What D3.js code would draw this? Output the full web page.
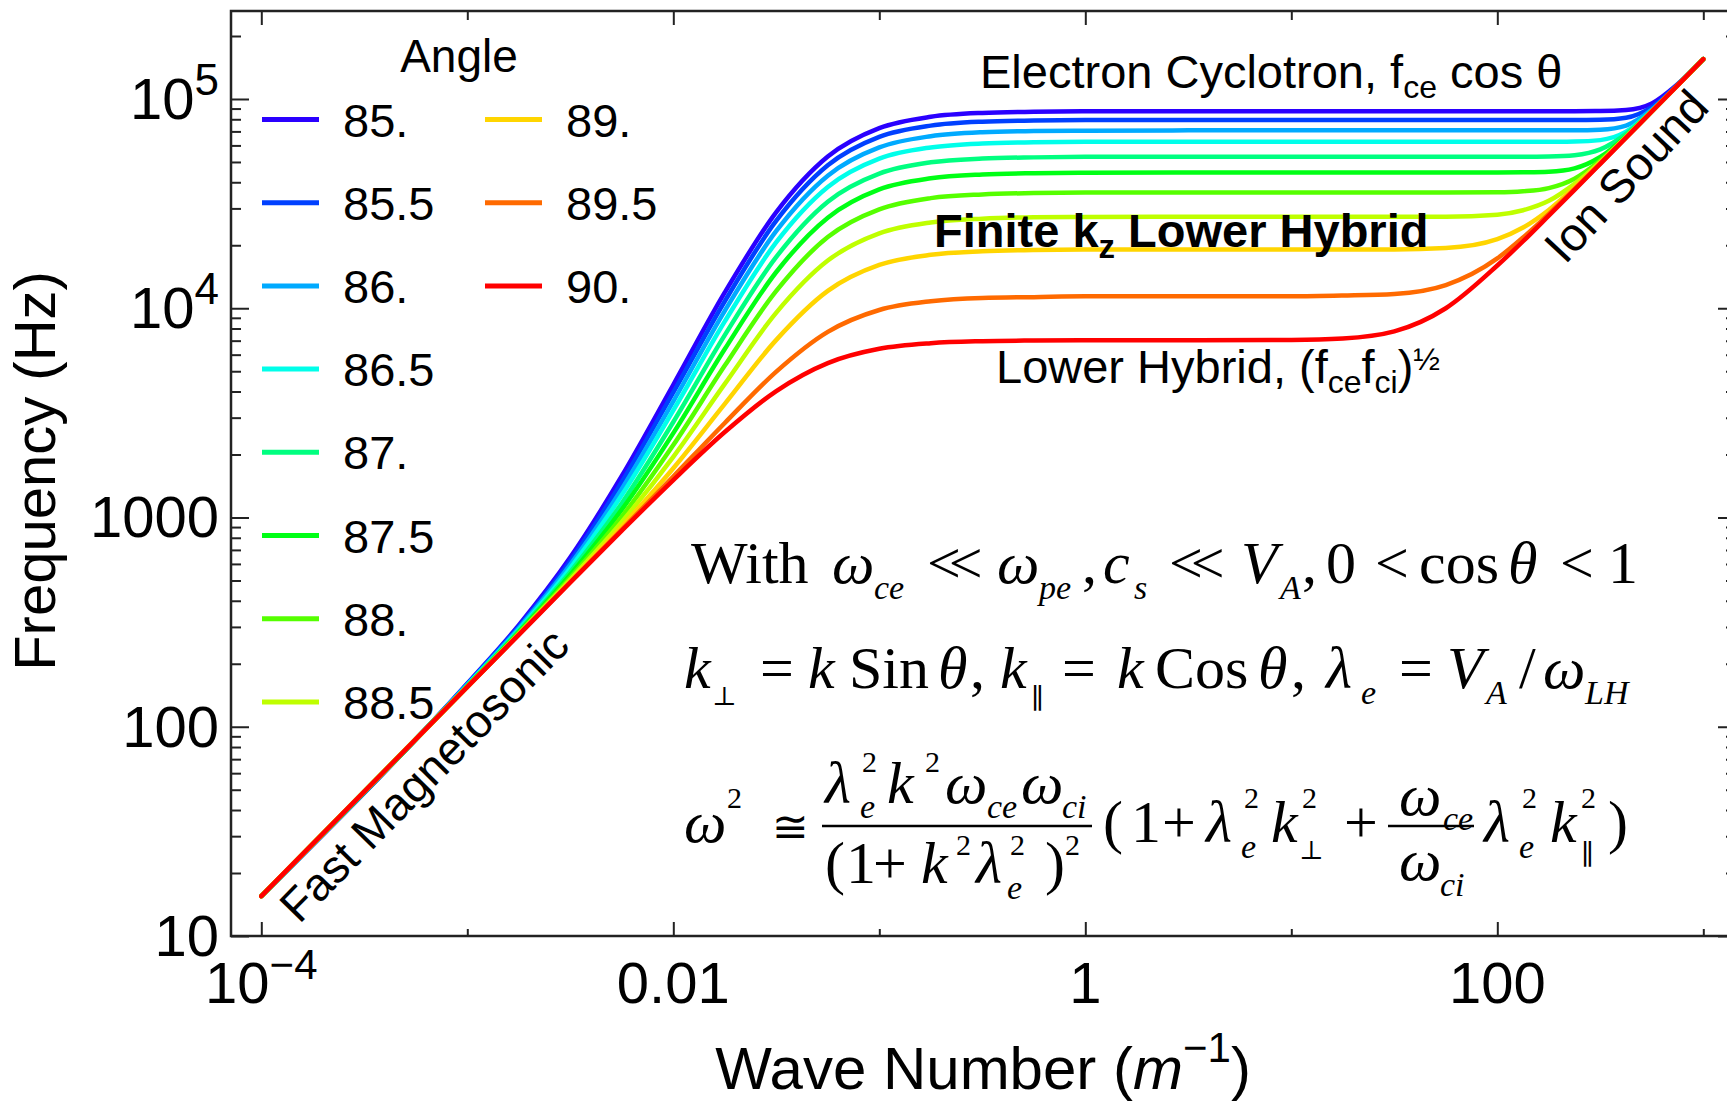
<!DOCTYPE html>
<html><head><meta charset="utf-8">
<script src="https://cdn.jsdelivr.net/npm/d3@7"></script>
<style>body{margin:0;background:#fff} svg{display:block}</style>
</head><body>
<svg id="chart" width="1727" height="1104"></svg>
<script>
// ---------------- data ----------------
const angles = ["85.", "85.5", "86.", "86.5", "87.", "87.5", "88.", "88.5", "89.", "89.5", "90."];
const waveNumbers = [1e-4, 1e-3, 0.001778, 0.003162, 0.005623, 0.01, 0.01778, 0.03162, 0.05623, 0.1, 0.1778, 0.3162, 0.5623, 1, 3.162, 10, 17.78, 31.62, 56.23, 100, 133.4, 177.8, 237.1, 316.2, 421.7, 562.3, 749.9, 1000];
const f85   = [15.5, 161, 306, 645, 1580, 4310, 11900, 28800, 53100, 72600, 82200, 85800, 86900, 87300, 87500, 87500, 87500, 87500, 87500, 87500, 87500, 87500, 87500, 87600, 88500, 95200, 117600, 155100];
const f85_5 = [15.5, 160, 301, 620, 1480, 3960, 10800, 26200, 48200, 65900, 74600, 77900, 78900, 79300, 79400, 79400, 79400, 79400, 79400, 79400, 79400, 79400, 79400, 79600, 81400, 91500, 116800, 155000];
const f86   = [15.5, 159, 296, 595, 1370, 3590, 9720, 23400, 43000, 58700, 66400, 69400, 70300, 70600, 70800, 70800, 70800, 70800, 70800, 70800, 70800, 70800, 70800, 71300, 74600, 89000, 116400, 155000];
const f86_5 = [15.5, 158, 291, 573, 1280, 3250, 8650, 20700, 38000, 51900, 58700, 61300, 62100, 62400, 62500, 62500, 62500, 62500, 62500, 62500, 62500, 62500, 62600, 63600, 69800, 87800, 116200, 155000];
const f87   = [15.5, 157, 287, 550, 1170, 2860, 7440, 17600, 32300, 44000, 49800, 51900, 52600, 52900, 53000, 53000, 53000, 53000, 53000, 53000, 53000, 53150, 53900, 57400, 68100, 87800, 116300, 155000];
const f87_5 = [15.5, 156, 283, 533, 1090, 2530, 6380, 14900, 27100, 37000, 41800, 43600, 44200, 44400, 44500, 44500, 44500, 44500, 44500, 44500, 44600, 44900, 46600, 52800, 66300, 87300, 116100, 155000];
const f88   = [15.5, 156, 280, 517, 1010, 2220, 5320, 12100, 21900, 29700, 33600, 35000, 35500, 35700, 35700, 35700, 35700, 35700, 35700, 35800, 36200, 37500, 41600, 50800, 65900, 87300, 116100, 155000];
const f88_5 = [15.5, 155, 278, 505, 952, 1950, 4350, 9530, 16900, 22800, 25700, 26800, 27200, 27300, 27400, 27400, 27400, 27400, 27400, 28000, 29400, 32600, 39300, 50100, 65800, 87300, 116100, 155000];
const f89   = [15.5, 155, 277, 496, 905, 1720, 3490, 7060, 12100, 16100, 18000, 18700, 19000, 19100, 19100, 19100, 19100, 19100, 19400, 21400, 24300, 29500, 37800, 49500, 65600, 87200, 116200, 155000];
const f89_5 = [15.5, 155, 276, 491, 875, 1570, 2830, 4980, 7710, 9810, 10800, 11200, 11300, 11400, 11400, 11400, 11500, 11700, 12900, 17300, 21800, 28200, 37100, 49200, 65400, 87100, 116100, 155000];
const f90   = [15.5, 155, 275, 489, 865, 1510, 2560, 4020, 5470, 6400, 6810, 6960, 7010, 7030, 7030, 7060, 7170, 7750, 10000, 16000, 20900, 27700, 36800, 49000, 65300, 87100, 116100, 155000];
const series = [f85, f85_5, f86, f86_5, f87, f87_5, f88, f88_5, f89, f89_5, f90];
const colors = ["hsl(250,100%,50%)", "hsl(225,100%,50%)", "hsl(200,100%,50%)", "hsl(175,100%,50%)", "hsl(150,100%,50%)", "hsl(125,100%,50%)", "hsl(100,100%,50%)", "hsl(75,100%,50%)", "hsl(50,100%,50%)", "hsl(25,100%,50%)", "hsl(0,100%,50%)"];
const xTickValues = [1e-4, 0.01, 1, 100];
const xTickLabels = ["10^\u22124", "0.01", "1", "100"];
const yTickValues = [10, 100, 1000, 1e4, 1e5];
const yTickLabels = ["10", "100", "1000", "10^4", "10^5"];

// ---------------- layout ----------------
const fSans = "'Liberation Sans', Arial, Helvetica, sans-serif";
const fSerif = "'Liberation Serif', 'Times New Roman', serif";
const fSym = "'DejaVu Serif', 'DejaVu Sans', serif";
const M = {left: 231, right: 1736, top: 11, bottom: 936};
const svg = d3.select("#chart");
const x = d3.scaleLog().domain([Math.pow(10, -4.1471), Math.pow(10, 3.1587)]).range([M.left, M.right]);
const y = d3.scaleLog().domain([10, Math.pow(10, 5.4205)]).range([M.bottom, M.top]);

svg.append("rect").attr("width", 1727).attr("height", 1104).attr("fill", "#fff");
svg.append("defs").append("clipPath").attr("id", "clip").append("rect")
  .attr("x", M.left).attr("y", M.top).attr("width", M.right - M.left).attr("height", M.bottom - M.top);

// ticks
const xDecades = d3.range(-4, 4).map(e => Math.pow(10, e));
const xMajor = xDecades.filter((d, i) => i % 2 === 0);
const xMinor = xDecades.filter((d, i) => i % 2 === 1);
const yMajor = yTickValues.slice();
const yMinor = [];
for (let e = 1; e <= 5; e++) for (let m = 2; m <= 9; m++) { const v = m * Math.pow(10, e); if (v < y.domain()[1]) yMinor.push(v); }

function styleAxis(g) { g.select(".domain").remove(); g.selectAll("line").attr("stroke", "#222").attr("stroke-width", 2); }
svg.append("g").attr("transform", `translate(0,${M.bottom})`).call(d3.axisTop(x).tickValues(xMajor).tickSize(14).tickFormat("")).call(styleAxis);
svg.append("g").attr("transform", `translate(0,${M.bottom})`).call(d3.axisTop(x).tickValues(xMinor).tickSize(7).tickFormat("")).call(styleAxis);
svg.append("g").attr("transform", `translate(0,${M.top})`).call(d3.axisBottom(x).tickValues(xMajor).tickSize(14).tickFormat("")).call(styleAxis);
svg.append("g").attr("transform", `translate(0,${M.top})`).call(d3.axisBottom(x).tickValues(xMinor).tickSize(9).tickFormat("")).call(styleAxis);
svg.append("g").attr("transform", `translate(${M.left},0)`).call(d3.axisRight(y).tickValues(yMajor).tickSize(18).tickFormat("")).call(styleAxis);
svg.append("g").attr("transform", `translate(${M.left},0)`).call(d3.axisRight(y).tickValues(yMinor).tickSize(10).tickFormat("")).call(styleAxis);
svg.append("g").attr("transform", `translate(${M.right},0)`).call(d3.axisLeft(y).tickValues(yMajor).tickSize(18).tickFormat("")).call(styleAxis);
svg.append("g").attr("transform", `translate(${M.right},0)`).call(d3.axisLeft(y).tickValues(yMinor).tickSize(10).tickFormat("")).call(styleAxis);

// frame
svg.append("rect").attr("x", M.left).attr("y", M.top).attr("width", M.right - M.left).attr("height", M.bottom - M.top)
  .attr("fill", "none").attr("stroke", "#222").attr("stroke-width", 2.5);

// tick labels
function powLabel(sel, label, supSize, supShift) {
  const parts = label.split("^");
  sel.append("tspan").text(parts[0]);
  if (parts[1]) sel.append("tspan").attr("dy", -supShift).attr("font-size", supSize).text(parts[1]);
}
yTickValues.forEach((v, i) => {
  const t = svg.append("text").attr("x", 219).attr("y", y(v) + 20).attr("text-anchor", "end")
    .attr("font-family", fSans).attr("font-size", 58).attr("fill", "#000");
  powLabel(t, yTickLabels[i], 44, 24);
});
xTickValues.forEach((v, i) => {
  const t = svg.append("text").attr("x", x(v)).attr("y", 1003).attr("text-anchor", "middle")
    .attr("font-family", fSans).attr("font-size", 58).attr("fill", "#000");
  powLabel(t, xTickLabels[i], 42, 24);
});

// axis titles
svg.append("text").attr("transform", "translate(55,471) rotate(-90)").attr("text-anchor", "middle")
  .attr("font-family", fSans).attr("font-size", 58).attr("fill", "#000").text("Frequency (Hz)");
const xt = svg.append("text").attr("x", 983).attr("y", 1089).attr("text-anchor", "middle")
  .attr("font-family", fSans).attr("font-size", 60).attr("fill", "#000");
xt.append("tspan").text("Wave Number (");
xt.append("tspan").attr("font-style", "italic").text("m");
xt.append("tspan").attr("font-size", 42).attr("dy", -27).text("\u22121");
xt.append("tspan").attr("dy", 27).text(")");

// curves
const line = d3.line().x(d => x(d[0])).y(d => y(d[1])).curve(d3.curveMonotoneX);
const gc = svg.append("g").attr("clip-path", "url(#clip)");
series.forEach((s, i) => {
  gc.append("path").datum(waveNumbers.map((k, j) => [k, s[j]]))
    .attr("d", line).attr("fill", "none").attr("stroke", colors[i]).attr("stroke-width", 4.5)
    .attr("stroke-linejoin", "round").attr("stroke-linecap", "round");
});

// legend
svg.append("text").attr("x", 459).attr("y", 72).attr("text-anchor", "middle").attr("font-family", fSans)
  .attr("font-size", 46).attr("fill", "#000").text("Angle");
angles.forEach((a, i) => {
  const col = i < 8 ? 0 : 1, row = i < 8 ? i : i - 8;
  const lx = col === 0 ? 262 : 485, tx = col === 0 ? 343 : 566;
  const ly = 119.5 + row * 83.2;
  svg.append("line").attr("x1", lx).attr("x2", lx + 57).attr("y1", ly).attr("y2", ly)
    .attr("stroke", colors[i]).attr("stroke-width", 5);
  svg.append("text").attr("x", tx).attr("y", ly + 17).attr("font-family", fSans).attr("font-size", 47)
    .attr("fill", "#000").text(a);
});

// rich text helper
function rich(x0, y0, size, parts, opts = {}) {
  const t = svg.append("text").attr("x", x0).attr("y", y0).attr("font-family", fSans)
    .attr("font-size", size).attr("fill", "#000");
  if (opts.bold) t.attr("font-weight", "bold");
  let cur = 0;
  parts.forEach(p => {
    const shift = p[1] === "sub" ? p[2] : p[1] === "sup" ? -p[2] : 0;
    const ts = t.append("tspan").attr("dy", shift - cur).text(p[0]);
    if (p[1]) ts.attr("font-size", p[3]);
    cur = shift;
  });
  return t;
}
rich(980, 88, 47, [["Electron Cyclotron, f"], ["ce", "sub", 10, 32], [" cos \u03b8"]]);
rich(934, 247, 47, [["Finite k"], ["z", "sub", 11, 33], [" Lower Hybrid"]], {bold: true});
rich(996, 383, 47, [["Lower Hybrid, (f"], ["ce", "sub", 10, 32], ["f"], ["ci", "sub", 10, 32], [")"], ["\u00bd", "sup", 13, 32]]);
svg.append("text").attr("transform", "translate(1626,176) rotate(-47)").attr("text-anchor", "middle")
  .attr("dominant-baseline", "central").attr("font-family", fSans).attr("font-size", 47).text("Ion Sound");
svg.append("text").attr("transform", "translate(424,775) rotate(-45.5)").attr("text-anchor", "middle")
  .attr("dominant-baseline", "central").attr("font-family", fSans).attr("font-size", 46).text("Fast Magnetosonic");

// equations (serif, absolutely placed tokens: text, x, baseline, size, italic, symbolFont, letterSpacing)
const eq = [
  ["With",691,583,60,0],["\u03c9",832,583,60,1],["ce",874,599,34,1],["<<",927,583,60,0,0,-12],["\u03c9",997,583,60,1],["pe",1039,599,34,1],[",",1082,583,60,0],["c",1103,583,60,1],["s",1134,599,34,1],["<<",1169,583,60,0,0,-12],["V",1241,583,60,1],["A",1280,599,34,1],[",",1302,583,60,0],["0",1326,583,60,0],["<",1375,583,60,0],["cos",1419,583,60,0],["\u03b8",1508,583,60,1],["<",1560,583,60,0],["1",1608,583,60,0],
  ["k",684,688,60,1],["\u22a5",712,705,26,0,1],["=",760,688,60,0],["k",808,688,60,1],["Sin",849,688,60,0],["\u03b8",938,688,60,1],[",",970,688,60,0],["k",1000,688,60,1],["\u2225",1031,708,28,0,1],["=",1062,688,60,0],["k",1117,688,60,1],["Cos",1155,688,60,0],["\u03b8",1258,688,60,1],[",",1291,688,60,0],["\u03bb",1326,688,60,1],["e",1361,704,34,1],["=",1399,688,60,0],["V",1447,688,60,1],["A",1486,704,34,1],["/",1519,688,60,0],["\u03c9",1543,688,60,1],["LH",1585,704,34,1],
  ["\u03c9",684,842,60,1],["2",727,808,30,0],["\u2245",772,842,44,0,1],
  ["\u03bb",825,803,60,1],["e",860,818,34,1],["2",862,772,30,0],["k",887,803,60,1],["2",925,772,30,0],["\u03c9",945,803,60,1],["ce",987,818,34,1],["\u03c9",1021,803,60,1],["ci",1062,818,34,1],
  ["(",825,883,60,0],["1",846,883,60,0],["+",873,883,60,0],["k",921,883,60,1],["2",956,855,30,0],["\u03bb",976,883,60,1],["e",1007,899,34,1],["2",1010,855,30,0],[")",1045,883,60,0],["2",1065,855,30,0],
  ["(",1103,842,60,0],["1",1131,842,60,0],["+",1162,842,60,0],["\u03bb",1206,842,60,1],["e",1241,858,34,1],["2",1244,808,30,0],["k",1271,842,60,1],["\u22a5",1299,859,26,0,1],["2",1302,808,30,0],["+",1344,842,60,0],
  ["\u03c9",1399,815,60,1],["ce",1443,830,34,1],["\u03c9",1399,880,60,1],["ci",1440,896,34,1],
  ["\u03bb",1484,842,60,1],["e",1519,858,34,1],["2",1522,808,30,0],["k",1550,842,60,1],["\u2225",1581,864,28,0,1],["2",1581,808,30,0],[")",1608,842,60,0]
];
const ge = svg.append("g").attr("fill", "#000");
eq.forEach(t => {
  const el = ge.append("text").attr("x", t[1]).attr("y", t[2]).attr("font-size", t[3])
    .attr("font-family", t[5] ? fSym : fSerif)
    .attr("font-style", t[4] ? "italic" : "normal").text(t[0]);
  if (t[6]) el.attr("letter-spacing", t[6]);
});
[[822, 1092], [1388, 1474]].forEach(b => {
  ge.append("line").attr("x1", b[0]).attr("x2", b[1]).attr("y1", 826).attr("y2", 826)
    .attr("stroke", "#000").attr("stroke-width", 2.5);
});
</script>
</body></html>
